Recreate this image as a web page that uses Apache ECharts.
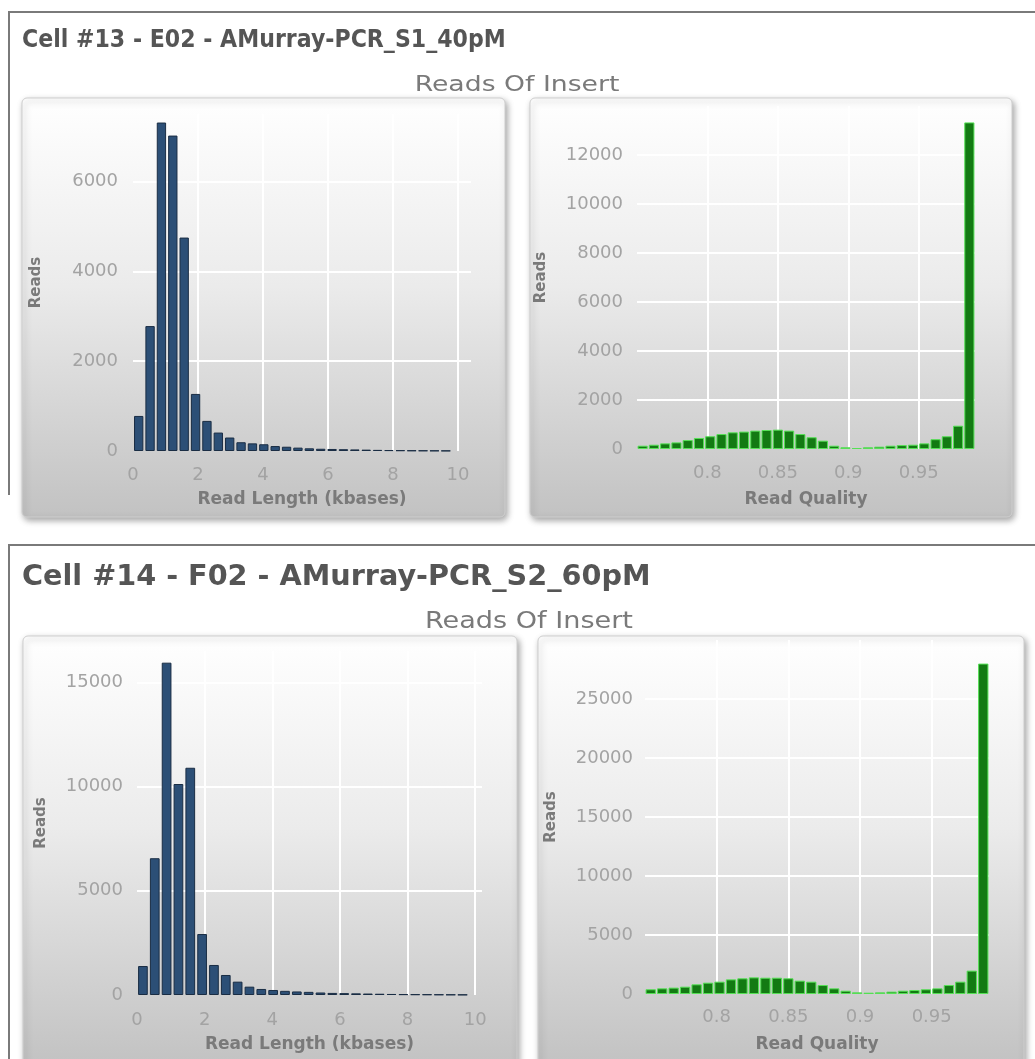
<!DOCTYPE html>
<html>
<head>
<meta charset="utf-8">
<title>Reads Of Insert</title>
<script src="https://cdn.jsdelivr.net/npm/echarts@6/dist/echarts.min.js"></script>
<style>
  html, body { margin: 0; padding: 0; background: #ffffff; }
  #chart { width: 1035px; height: 1059px; }
</style>
</head>
<body>
<div id="chart"></div>
<script>
// ---- Cell titles ----
const cellTitles = [
  'Cell #13 - E02 - AMurray-PCR_S1_40pM',
  'Cell #14 - F02 - AMurray-PCR_S2_60pM'
];
const sectionTitle = 'Reads Of Insert';

// ---- Read length histograms (kbases, bins start at 0) ----
const lengthBinStart = 0;
const lengthBinWidth = 0.35;
const cell13Length = [780, 2780, 7310, 7020, 4750, 1270, 670, 410, 300, 195, 170, 150, 110, 95,
  75, 60, 50, 45, 40, 35, 30, 25, 20, 16, 12, 10, 8, 6];
const cell14Length = [1390, 6560, 15940, 10120, 10900, 2925, 1440, 960, 640, 400, 290, 240, 200, 170,
  150, 120, 100, 90, 80, 70, 60, 50, 40, 35, 30, 25, 20, 15];

// ---- Read quality histograms ----
const qualityBinStart = 0.75;
const qualityBinWidth = 0.008;
const cell13Quality = [135, 175, 230, 270, 365, 450, 520, 610, 680, 710, 750, 775, 790, 750, 610,
  480, 340, 135, 70, 40, 70, 95, 135, 160, 175, 230, 400, 520, 950, 13330];
const cell14Quality = [400, 480, 540, 620, 820, 960, 1045, 1240, 1330, 1410, 1380, 1380, 1330, 1130, 1045,
  760, 480, 280, 140, 110, 140, 200, 280, 340, 400, 480, 760, 1045, 1980, 28000];

// ---- Axis titles ----
const lengthAxisName = 'Read Length (kbases)';
const qualityAxisName = 'Read Quality';
const countAxisName = 'Reads';

// turn a list of bin counts into [binCenter, count] points
function binned(start, width, counts) {
  return counts.map((c, i) => [start + (i + 0.5) * width, c]);
}

const FONT = '"DejaVu Sans", Verdana, sans-serif';
const FONT_COND = '"DejaVu Sans Condensed", "DejaVu Sans", sans-serif';
const labelColor = '#a3a3a3';
const nameColor = '#7a7a7a';
const gridWhite = { color: '#ffffff', width: 2 };
const plainNumber = v => String(v);

function panelRect(x, y, w, h) {
  return {
    type: 'rect', z: -10,
    shape: { x, y, width: w, height: h, r: 5 },
    style: {
      fill: new echarts.graphic.LinearGradient(0, 0, 0, 1, [
        { offset: 0, color: '#ffffff' },
        { offset: 0.45, color: '#ebebeb' },
        { offset: 1, color: '#c2c2c2' }
      ]),
      stroke: '#cfcfcf', lineWidth: 1,
      shadowBlur: 6, shadowOffsetX: 2, shadowOffsetY: 3,
      shadowColor: 'rgba(0,0,0,0.35)'
    }
  };
}

function frameLines(top, bottom) {
  return {
    type: 'polyline', z: -20,
    shape: { points: [[9, bottom], [9, top], [1040, top]] },
    style: { stroke: '#7a7a7a', lineWidth: 2, fill: null }
  };
}

function textEl(text, x, y, font, fill, align, scaleX) {
  return {
    type: 'text', x, y, scaleX: scaleX || 1,
    style: { text, font, fill, align: align || 'left', verticalAlign: 'middle' }
  };
}

function xAxisCfg(grid, min, max, interval, name, nameGap, labelMargin) {
  return {
    type: 'value', gridIndex: grid, min, max, interval,
    name, nameLocation: 'middle', nameGap,
    nameTextStyle: { color: nameColor, fontFamily: FONT, fontWeight: 'bold', fontSize: 17 },
    axisLine: { show: false }, axisTick: { show: false },
    axisLabel: { color: labelColor, fontFamily: FONT, fontSize: 18, margin: labelMargin,
      formatter: plainNumber, showMinLabel: min === 0, showMaxLabel: false },
    splitLine: { show: true, lineStyle: gridWhite, showMinLine: false, showMaxLine: false }
  };
}

function yAxisCfg(grid, max, interval, nameGap, labelMargin) {
  return {
    type: 'value', gridIndex: grid, min: 0, max, interval,
    name: countAxisName, nameLocation: 'middle', nameGap, nameRotate: 90,
    nameTextStyle: { color: nameColor, fontFamily: FONT, fontWeight: 'bold', fontSize: 15 },
    axisLine: { show: false }, axisTick: { show: false },
    axisLabel: { color: labelColor, fontFamily: FONT, fontSize: 18, margin: labelMargin,
      formatter: plainNumber, showMaxLabel: false },
    splitLine: { show: true, lineStyle: gridWhite, showMinLine: false, showMaxLine: false }
  };
}

const blueBar = { color: '#2c4f76', borderColor: '#1a2d44', borderWidth: 1 };
const greenBar = { color: '#137a13', borderColor: '#55e055', borderWidth: 1 };

const chart = echarts.init(document.getElementById('chart'), null, { renderer: 'canvas' });

chart.setOption({
  animation: false,
  backgroundColor: '#ffffff',
  graphic: [
    frameLines(12, 495),
    frameLines(545, 1062),
    panelRect(22, 98, 483, 419),
    panelRect(530, 98, 482, 419),
    panelRect(23, 636, 494, 430),
    panelRect(538, 636, 486, 430),
    textEl(cellTitles[0], 22, 41, 'bold 24px ' + FONT, '#555555', 'left', 0.92),
    textEl(sectionTitle, 517, 86, '21px ' + FONT, '#7a7a7a', 'center', 1.27),
    textEl(cellTitles[1], 22, 577, 'bold 29px ' + FONT_COND, '#555555', 'left', 1.1),
    textEl(sectionTitle, 529, 622, '23px ' + FONT_COND, '#7a7a7a', 'center', 1.31)
  ],
  grid: [
    { left: 133, top: 114, width: 338, height: 337 },
    { left: 637, top: 106, width: 338, height: 343 },
    { left: 137, top: 651, width: 345, height: 344 },
    { left: 645, top: 640, width: 344, height: 354 }
  ],
  xAxis: [
    xAxisCfg(0, 0, 10.4, 2, lengthAxisName, 40, 15),
    xAxisCfg(1, 0.75, 0.99, 0.05, qualityAxisName, 42, 15),
    xAxisCfg(2, 0, 10.2, 2, lengthAxisName, 41, 16),
    xAxisCfg(3, 0.75, 0.99, 0.05, qualityAxisName, 42, 14)
  ],
  yAxis: [
    yAxisCfg(0, 7500, 2000, 89, 15),
    yAxisCfg(1, 14000, 2000, 88, 14),
    yAxisCfg(2, 16500, 5000, 88, 14),
    yAxisCfg(3, 30000, 5000, 86, 12)
  ],
  series: [
    { type: 'bar', xAxisIndex: 0, yAxisIndex: 0, barWidth: '82%', itemStyle: blueBar,
      data: binned(lengthBinStart, lengthBinWidth, cell13Length) },
    { type: 'bar', xAxisIndex: 1, yAxisIndex: 1, barWidth: '90%', itemStyle: greenBar,
      data: binned(qualityBinStart, qualityBinWidth, cell13Quality) },
    { type: 'bar', xAxisIndex: 2, yAxisIndex: 2, barWidth: '82%', itemStyle: blueBar,
      data: binned(lengthBinStart, lengthBinWidth, cell14Length) },
    { type: 'bar', xAxisIndex: 3, yAxisIndex: 3, barWidth: '90%', itemStyle: greenBar,
      data: binned(qualityBinStart, qualityBinWidth, cell14Quality) }
  ]
});
</script>
</body>
</html>
